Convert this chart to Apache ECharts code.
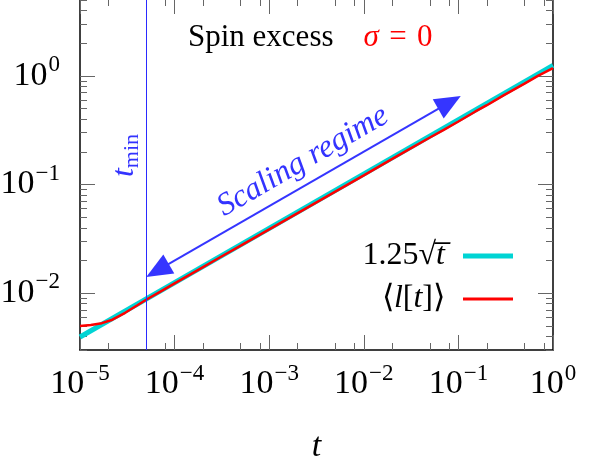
<!DOCTYPE html>
<html>
<head>
<meta charset="utf-8">
<script src="https://cdn.jsdelivr.net/npm/echarts@6/dist/echarts.min.js"></script>
<style>
html,body{margin:0;padding:0;background:#fff;}
#main{width:597px;height:461px;}
</style>
</head>
<body>
<div id="main"></div>
<script>
// fitted curve 1.25*sqrt(t), straight on log-log, two end points
var fitT = [1e-5, 1];
var fitY = [0.00395, 1.25];
// simulation <l[t]>
var meanT = [1e-5, 1.3e-5, 1.7e-5, 2.2e-5, 3e-5, 4e-5, 5e-5, 7e-5, 1e-4, 2e-4, 3e-4, 5e-4, 1e-3, 2e-3, 5e-3, 1e-2, 2e-2, 3e-2, 5e-2, 7e-2, 0.1, 0.15, 0.2, 0.3, 0.5, 0.7, 1];
var meanY = [0.0050, 0.0051, 0.0053, 0.0057, 0.0066, 0.0077, 0.0087, 0.0103, 0.0123, 0.0174, 0.0213, 0.0274, 0.0387, 0.0546, 0.0862, 0.1215, 0.172, 0.211, 0.271, 0.318, 0.380, 0.468, 0.537, 0.661, 0.848, 1.005, 1.18];
var xMajor = [1e-5, 1e-4, 1e-3, 1e-2, 1e-1, 1];
var yMajor = [1e-2, 1e-1, 1];
var xMinorMult = [2, 5, 8];
var yMinorMult = [2, 3, 4, 5, 6, 7, 8, 9];
var yRange = [3e-3, 5.1];
var tMin = 5e-5;
// arrow end points (symbol centres)
var arrowFrom = [6.6e-5, 0.0162];
var arrowTo = [0.0805, 0.570];

var FONT = 'Liberation Serif';
var fitName = 'fit';
var meanName = 'mean';

function minorList(mult, lo, hi){
	var out = [];
	for(var e = lo; e < hi; e++){
		for(var i = 0; i < mult.length; i++){
			out.push(mult[i] * Math.pow(10, e));
		}
	}
	return out;
}
var xMinor = minorList(xMinorMult, -5, 0);
var yMinor = minorList(yMinorMult, -3, 1);

function powLabel(v){
	var e = Math.round(Math.log10(v));
	return '{b|10}{s|' + (e < 0 ? '\u2212' + (-e) : e) + '}';
}
var labelRich = {
	b: {fontFamily: FONT, fontSize: 34, color: '#000'},
	s: {fontFamily: FONT, fontSize: 23, color: '#000', padding: [0, 0, 22, 1]}
};

function frameAxis(pos, isX, major, minor, withLabel){
	var base = {
		type: 'log', logBase: 10,
		min: isX ? 1e-5 : yRange[0],
		max: isX ? 1 : yRange[1],
		position: pos,
		splitLine: {show: false},
		minorTick: {show: false}
	};
	var list = [];
	var a = echarts.util.clone(base);
	a.axisLine = {show: true, lineStyle: {color: '#000', width: 1.5}};
	a.axisTick = {show: true, inside: true, length: 15, customValues: major, lineStyle: {color: '#666', width: 1}};
	a.axisLabel = withLabel ? {
		show: true, customValues: major, margin: isX ? 12 : 20,
		formatter: powLabel, rich: labelRich
	} : {show: false};
	list.push(a);
	var b = echarts.util.clone(base);
	b.axisLine = {show: false};
	b.axisTick = {show: true, inside: true, length: 7, customValues: minor, lineStyle: {color: '#666', width: 1}};
	b.axisLabel = {show: false};
	list.push(b);
	return list;
}

var xAxes = frameAxis('bottom', true, xMajor, xMinor, true).concat(frameAxis('top', true, xMajor, xMinor, false));
var yAxes = frameAxis('left', false, yMajor, yMinor, true).concat(frameAxis('right', false, yMajor, yMinor, false));
xAxes[0].name = 't';
xAxes[0].nameLocation = 'middle';
xAxes[0].nameGap = 80;
xAxes[0].nameTextStyle = {fontFamily: FONT, fontSize: 34, fontStyle: 'italic', color: '#000'};

function pairs(xs, ys){
	var out = [];
	for(var i = 0; i < xs.length; i++){
		out.push([xs[i], ys[i]]);
	}
	return out;
}

var chart = echarts.init(document.getElementById('main'));
chart.setOption({
	animation: false,
	backgroundColor: '#fff',
	title: {
		text: '{a|Spin excess}{g|}{b|σ}{c|\u2004=\u20040}',
		left: 183, top: 17,
		textStyle: {
			fontWeight: 'normal',
			rich: {
				a: {fontFamily: FONT, fontSize: 31, fontWeight: 'normal', color: '#000'},
				g: {width: 30},
				b: {fontFamily: FONT, fontSize: 31, fontWeight: 'normal', fontStyle: 'italic', color: '#ff0000'},
				c: {fontFamily: FONT, fontSize: 31, fontWeight: 'normal', color: '#ff0000'}
			}
		}
	},
	grid: {left: 80, right: 44, top: -1, bottom: 111, outerBoundsMode: 'none', containLabel: false},
	legend: [{
		data: [fitName],
		orient: 'vertical', align: 'right',
		right: 79, top: 235,
		itemWidth: 50, itemHeight: 5, icon: 'rect',
		formatter: function(){ return '{u|1.25√}{i|t\u0305}'; },
		textStyle: {
			fontFamily: FONT, fontSize: 32, color: '#000', padding: [0, 13, 0, 0],
			rich: {
				u: {fontFamily: FONT, fontSize: 32, color: '#000'},
				i: {fontFamily: FONT, fontSize: 32, fontStyle: 'italic', color: '#000'}
			}
		}
	}, {
		data: [meanName],
		orient: 'vertical', align: 'right',
		right: 79, top: 278,
		itemWidth: 50, itemHeight: 3, icon: 'rect',
		formatter: function(){ return '{u|⟨}{i|l}{u|[}{i|t}{u|]⟩}'; },
		textStyle: {
			fontFamily: FONT, fontSize: 32, color: '#000', padding: [0, 13, 0, 0],
			rich: {
				u: {fontFamily: FONT, fontSize: 32, color: '#000'},
				i: {fontFamily: FONT, fontSize: 32, fontStyle: 'italic', color: '#000'}
			}
		}
	}],
	xAxis: xAxes,
	yAxis: yAxes,
	series: [{
		name: fitName,
		type: 'line',
		data: pairs(fitT, fitY),
		symbol: 'none',
		itemStyle: {color: '#00d4d4'},
		lineStyle: {color: '#00d4d4', width: 5},
		markLine: {
			silent: true,
			symbol: 'none',
			data: [
				[
					{
						coord: [tMin, yRange[0]],
						lineStyle: {color: '#2a2aff', width: 1, type: 'solid'},
						label: {
							show: true,
							position: 'insideMiddleTop',
							distance: 3,
							formatter: '{t|t}{m|min}',
							padding: [0, 0, 0, 38],
							rich: {
								t: {fontFamily: FONT, fontSize: 32, fontStyle: 'italic', color: '#3333ff'},
								m: {fontFamily: FONT, fontSize: 22, color: '#3333ff', padding: [16, 0, 0, 0]}
							}
						}
					},
					{coord: [tMin, yRange[1]]}
				],
				[
					{
						coord: arrowFrom, symbol: 'triangle', symbolSize: [22, 26],
						lineStyle: {color: '#3535ff', width: 2, type: 'solid'},
						label: {
							show: true,
							position: 'insideMiddleTop',
							distance: 6,
							padding: [0, 0, 0, 24],
							formatter: 'Scaling regime',
							fontFamily: FONT, fontSize: 32, fontStyle: 'italic', color: '#3333ff'
						}
					},
					{coord: arrowTo, symbol: 'triangle', symbolSize: [22, 26]}
				]
			]
		}
	}, {
		name: meanName,
		type: 'line',
		data: pairs(meanT, meanY),
		symbol: 'none',
		itemStyle: {color: '#ff0000'},
		lineStyle: {color: '#ff0000', width: 2.5}
	}]
});
</script>
</body>
</html>
